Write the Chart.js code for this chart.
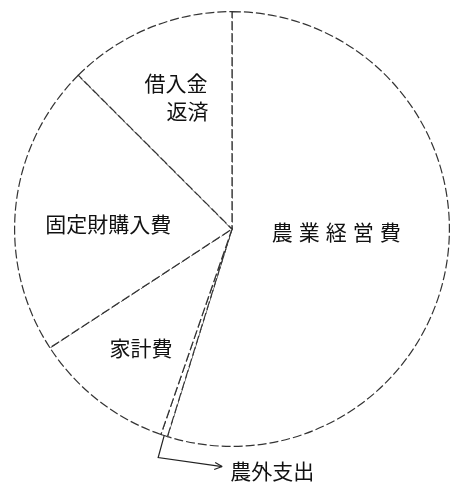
<!DOCTYPE html>
<html>
<head>
<meta charset="utf-8">
<script src="https://cdn.jsdelivr.net/npm/chart.js@4"></script>
<style>
  html, body { margin: 0; padding: 0; background: #fff; }
  #wrap { width: 450px; height: 486px; }
</style>
</head>
<body>
<div id="wrap"><canvas id="myChart" width="450" height="486"></canvas></div>
<script>
// Categories, clockwise from 12 o'clock
const categories = ['農業経営費', '農外支出', '家計費', '固定財購入費', '借入金返済'];
// Shares (%)
const shares = [54.8, 0.5, 10.5, 21.7, 12.5];

// Label placement: angle (deg, clockwise from top), radius fraction
const labelSpots = [
  { text: '農業経営費', angle: 91.7, r: 0.48, pitch: 27 },
  { text: '借入金', angle: 339.0, r: 0.72 },
  { text: '返済', angle: 339.3, r: 0.58 },
  { text: '固定財購入費', angle: 272.3, r: 0.57 },
  { text: '家計費', angle: 217.4, r: 0.69 }
];

const FONT = '21px "Noto Sans CJK JP", "Noto Sans", sans-serif';

const pieLabels = {
  id: 'pieLabels',
  afterDraw(chart) {
    const ctx = chart.ctx;
    const meta = chart.getDatasetMeta(0);
    const { x, y, outerRadius } = meta.data[0].getProps(['x', 'y', 'outerRadius'], true);
    ctx.save();
    ctx.fillStyle = '#111';
    ctx.font = FONT;
    ctx.textBaseline = 'middle';
    ctx.textAlign = 'center';
    labelSpots.forEach(l => {
      const a = (l.angle - 90) * Math.PI / 180;
      const px = x + l.r * outerRadius * Math.cos(a);
      const py = y + l.r * outerRadius * Math.sin(a);
      if (l.pitch) {
        const chars = [...l.text];
        const start = px - (chars.length - 1) * l.pitch / 2;
        chars.forEach((c, i) => ctx.fillText(c, start + i * l.pitch, py));
      } else {
        ctx.fillText(l.text, px, py);
      }
    });

    // leader for the thin slice
    const thin = meta.data[1].getProps(['startAngle', 'endAngle'], true);
    const mid = (thin.startAngle + thin.endAngle) / 2;
    const sx = x + outerRadius * Math.cos(mid);
    const sy = y + outerRadius * Math.sin(mid);
    const ex = sx - 6, ey = sy + 22;
    const ax = ex + 64, ay = ey + 9;
    ctx.strokeStyle = '#222';
    ctx.lineWidth = 1.2;
    ctx.beginPath();
    ctx.moveTo(sx, sy);
    ctx.lineTo(ex, ey);
    ctx.lineTo(ax, ay);
    ctx.stroke();
    ctx.beginPath();
    ctx.moveTo(ax, ay);
    ctx.lineTo(ax - 7, ay - 4);
    ctx.moveTo(ax, ay);
    ctx.lineTo(ax - 8, ay + 3);
    ctx.stroke();
    ctx.textAlign = 'left';
    ctx.fillText(categories[1], ax + 8, ay + 4);
    ctx.restore();
  }
};

const config = {
  type: 'pie',
  data: {
    labels: categories,
    datasets: [{
      data: shares,
      backgroundColor: '#ffffff',
      borderColor: '#333',
      borderWidth: 1.2,
      borderDash: [9, 3],
      borderJoinStyle: 'miter'
    }]
  },
  options: {
    responsive: false,
    animation: false,
    layout: { padding: { top: 11, bottom: 39, left: 14, right: 0 } },
    plugins: {
      legend: { display: false },
      tooltip: { enabled: false }
    }
  },
  plugins: [pieLabels]
};

const ctx = document.getElementById('myChart').getContext('2d');
new Chart(ctx, config);
</script>
</body>
</html>
